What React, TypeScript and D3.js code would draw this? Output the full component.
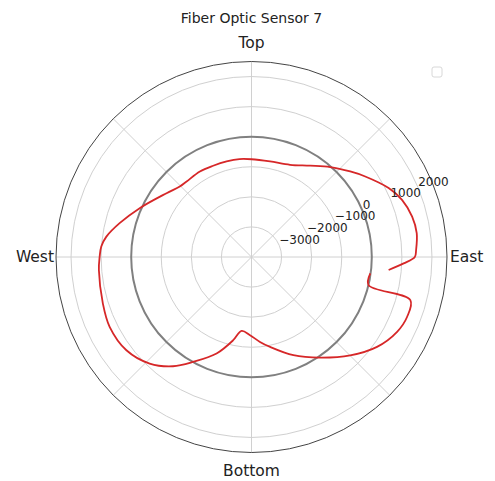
import React from 'react';
import * as d3 from 'd3';

const W = 495;
const H = 481;
const title = 'Fiber Optic Sensor 7';

// angle in degrees (0 = East, counter-clockwise), sensor value
const thetaDeg = [-5.4, -2.4, 0, 2.4, 8.2, 14.1, 20.8, 26.7, 35.3, 40.9, 48.8, 57.3, 67.3, 79, 90, 97, 104.6, 112.8, 121.1, 130.7, 135.5, 143.1, 156.4, 165.6, 172, 176, 180, 184.9, 197.3, 206.2, 216.7, 226.3, 234.3, 240.9, 250.1, 257.6, 262.4, 268.9, 275.7, 281.7, 293.1, 304.3, 315.1, 324.4, 332.8, 338.9, 344.8, 346.5, 352.2];
const values = [580, 1063, 1430, 1477, 1550, 1507, 1353, 1103, 633, 343, -27, -393, -677, -763, -750, -720, -717, -710, -680, -690, -657, -467, 57, 527, 873, 1007, 1050, 1093, 1177, 1257, 1187, 900, 473, -7, -587, -1167, -1523, -1400, -1163, -947, -450, 50, 633, 1133, 1443, 1543, 1473, 3, -13];

const rTicks = [-3000, -2000, -1000, 0, 1000, 2000];
const rDomain = [-4000, 2500];
const gridAngles = [0, 45, 90, 135, 180, 225, 270, 315];
const dirLabels = ['East', 'Top', 'West', 'Bottom'];
const dirAngles = [0, 90, 180, 270];

export default function App() {
  const cx = 251.5;
  const cy = 257;
  const R = 195.5;
  const r = d3.scaleLinear().domain(rDomain).range([0, R]);
  const toRad = (deg: number) => ((90 - deg) * Math.PI) / 180;
  const pts = thetaDeg.map((t, i) => [toRad(t), values[i]] as [number, number]);
  const line = d3
    .lineRadial<[number, number]>()
    .angle((d) => d[0])
    .radius((d) => r(d[1]))
    .curve(d3.curveCatmullRom.alpha(0.5));
  const font = 'DejaVu Sans, sans-serif';
  const labelAng = (22.5 * Math.PI) / 180;

  return (
    <svg width={W} height={H} style={{ position: 'absolute', left: 0, top: 0 }} fontFamily={font}>
      <rect width={W} height={H} fill="#fff" />
      <text x={cx} y={23} textAnchor="middle" fontSize={14} fill="#222">{title}</text>
      <g transform={`translate(${cx},${cy})`}>
        {rTicks.filter((t) => t !== 0).map((t) => (
          <circle key={t} r={r(t)} fill="none" stroke="#d0d0d0" strokeWidth={1} />
        ))}
        {gridAngles.map((a) => {
          const rad = (a * Math.PI) / 180;
          return (
            <line key={a} x1={0} y1={0} x2={R * Math.cos(rad)} y2={-R * Math.sin(rad)} stroke="#d0d0d0" strokeWidth={1} />
          );
        })}
        <circle r={r(0)} fill="none" stroke="#808080" strokeWidth={2} />
        <circle r={R} fill="none" stroke="#444" strokeWidth={1} />
        <path d={line(pts) || ''} fill="none" stroke="#d62728" strokeWidth={1.8} strokeLinejoin="round" />
        {rTicks.map((t) => (
          <text key={t} x={r(t) * Math.cos(labelAng)} y={-r(t) * Math.sin(labelAng) - 2} fontSize={12} fill="#222">
            {t < 0 ? '\u2212' + Math.abs(t) : String(t)}
          </text>
        ))}
        {dirLabels.map((lab, i) => {
          const a = dirAngles[i];
          if (a === 0) return <text key={lab} x={R + 3} y={0} dy="0.35em" fontSize={15.5} fill="#222">{lab}</text>;
          if (a === 180) return <text key={lab} x={-R - 2} y={0} dy="0.35em" textAnchor="end" fontSize={15.5} fill="#222">{lab}</text>;
          if (a === 90) return <text key={lab} x={0} y={-R - 14} textAnchor="middle" fontSize={15.5} fill="#222">{lab}</text>;
          return <text key={lab} x={0} y={R + 23} textAnchor="middle" fontSize={15.5} fill="#222">{lab}</text>;
        })}
      </g>
      <rect x={432} y={67} width={10} height={10} rx={2} fill="#fff" stroke="#d8d8d8" strokeWidth={1} />
    </svg>
  );
}
